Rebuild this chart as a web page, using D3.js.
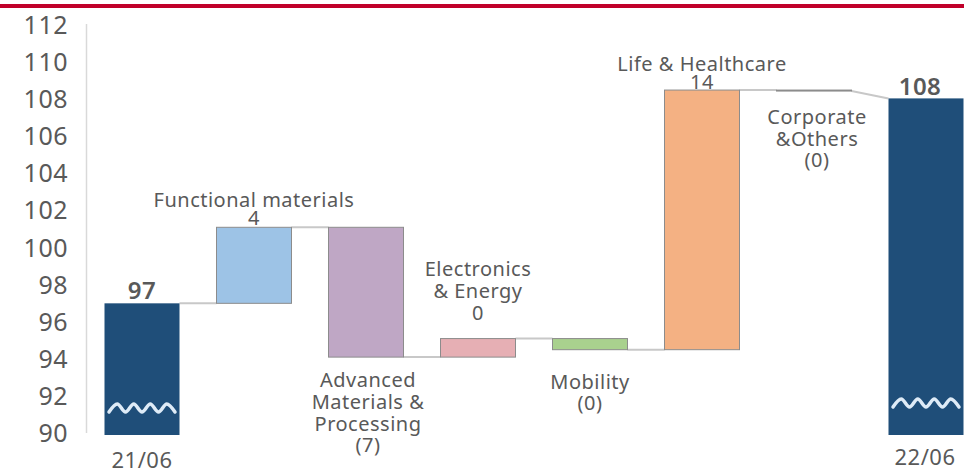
<!DOCTYPE html>
<html>
<head>
<meta charset="utf-8">
<script src="https://cdn.jsdelivr.net/npm/d3@7"></script>
<style>
  body { margin: 0; background: #fff; }
  svg { display: block; }
  text { font-family: "Noto Sans", "DejaVu Sans", sans-serif; fill: #595959; }
</style>
</head>
<body>
<svg width="964" height="476"></svg>
<script>
// data
var categories = ["21/06", "Functional materials", "Advanced Materials & Processing",
  "Electronics & Energy", "Mobility", "Life & Healthcare", "Corporate &Others", "22/06"];
var startValue = 97.1;
var deltas = [4.1, -7.0, 1.0, -0.6, 14.0, -0.05];
var endValue = 108.15;
var valueLabels = ["97", "4", "(7)", "0", "(0)", "14", "(0)", "108"];
var yTicks = [90, 92, 94, 96, 98, 100, 102, 104, 106, 108, 110, 112];
var colors = ["#1f4e79", "#9dc3e6", "#bfa7c5", "#e6afb4", "#a9d18e", "#f4b183", "#a6a6a6", "#1f4e79"];

var svg = d3.select("svg");

var x = d3.scalePoint().domain(categories).range([142, 926]);
var y = d3.scaleLinear().domain([90, 112]).range([435, 27]);
var barW = 75;

// build waterfall rows
var rows = [];
var cum = startValue;
rows.push({ cat: categories[0], lo: 90, hi: startValue, end: startValue, total: true });
deltas.forEach(function (d, i) {
  var s = cum;
  cum = cum + d;
  rows.push({ cat: categories[i + 1], lo: Math.min(s, cum), hi: Math.max(s, cum), start: s, end: cum, total: false });
});
rows.push({ cat: categories[7], lo: 90, hi: endValue, end: endValue, total: true });

// top red rule
svg.append("rect").attr("x", 0).attr("y", 4).attr("width", 964).attr("height", 4).attr("fill", "#c0002a");

// y axis line and labels
svg.append("line")
  .attr("x1", 86.5).attr("x2", 86.5)
  .attr("y1", y(112) - 3).attr("y2", y(90) - 2)
  .attr("stroke", "#d9d9d9").attr("stroke-width", 1.5);

svg.append("g").selectAll("text")
  .data(yTicks)
  .enter()
  .append("text")
  .attr("x", 68)
  .attr("y", function (d) { return y(d) + 7; })
  .attr("text-anchor", "end")
  .style("font-size", "25px")
  .style("letter-spacing", "0.5px")
  .text(function (d) { return d; });

// connectors
var conn = [];
for (var i = 0; i < rows.length - 1; i++) {
  var next = rows[i + 1];
  conn.push({
    x1: x(rows[i].cat) + barW / 2, y1: rows[i].end,
    x2: x(next.cat) - barW / 2, y2: next.total ? next.hi : next.start
  });
}
svg.append("g").selectAll("line")
  .data(conn)
  .enter()
  .append("line")
  .attr("x1", function (d) { return d.x1; })
  .attr("x2", function (d) { return d.x2; })
  .attr("y1", function (d) { return y(d.y1); })
  .attr("y2", function (d) { return y(d.y2); })
  .attr("stroke", "#c8c8c8")
  .attr("stroke-width", 2);

// bars
svg.append("g").selectAll("rect")
  .data(rows)
  .enter()
  .append("rect")
  .attr("x", function (d) { return x(d.cat) - barW / 2; })
  .attr("y", function (d) { return y(d.hi); })
  .attr("width", barW)
  .attr("height", function (d) { return Math.max(1, y(d.lo) - y(d.hi)); })
  .attr("fill", function (d, i) { return colors[i]; })
  .attr("stroke", function (d) { return d.total ? "none" : "#8c8c8c"; })
  .attr("stroke-width", 1);

// axis-break waves on the total bars
var wave = d3.line().curve(d3.curveCardinal);
[[categories[0], 408], [categories[7], 403]].forEach(function (w) {
  var cx = x(w[0]);
  var pts = [];
  for (var k = 0; k <= 8; k++) {
    pts.push([cx - 33 + k * 8.25, w[1] + (k % 2 === 0 ? 4 : -4)]);
  }
  svg.append("path")
    .attr("d", wave(pts))
    .attr("fill", "none")
    .attr("stroke", "#deebf7")
    .attr("stroke-width", 3.5)
    .attr("stroke-linecap", "round");
});

// label blocks, one per category
var labelBlocks = [
  { i: 0, dx: 0, lines: [valueLabels[0]], ys: [299], size: 24, bold: true },
  { i: 1, dx: 0, lines: ["Functional materials", valueLabels[1]], ys: [207, 225], size: 20 },
  { i: 2, dx: 2, lines: ["Advanced", "Materials &", "Processing", valueLabels[2]], ys: [387, 409, 431, 452], size: 20 },
  { i: 3, dx: 0, lines: ["Electronics", "& Energy", valueLabels[3]], ys: [276, 298, 320], size: 20 },
  { i: 4, dx: 0, lines: ["Mobility", valueLabels[4]], ys: [389, 410], size: 20 },
  { i: 5, dx: 0, lines: ["Life & Healthcare", valueLabels[5]], ys: [71, 89], size: 20 },
  { i: 6, dx: 3, lines: ["Corporate", "&Others", valueLabels[6]], ys: [124, 146, 167], size: 20 },
  { i: 7, dx: -6, lines: [valueLabels[7]], ys: [95], size: 24, bold: true },
  { i: 0, dx: 0, lines: [categories[0]], ys: [468], size: 22 },
  { i: 7, dx: -1, lines: [categories[7]], ys: [465], size: 22 }
];

labelBlocks.forEach(function (b) {
  b.lines.forEach(function (t, j) {
    svg.append("text")
      .attr("x", x(categories[b.i]) + b.dx)
      .attr("y", b.ys[j])
      .attr("text-anchor", "middle")
      .style("font-size", b.size + "px")
      .style("font-weight", b.bold ? 600 : "normal")
      .style("letter-spacing", b.bold ? "0.5px" : "0.5px")
      .text(t);
  });
});
</script>
</body>
</html>
